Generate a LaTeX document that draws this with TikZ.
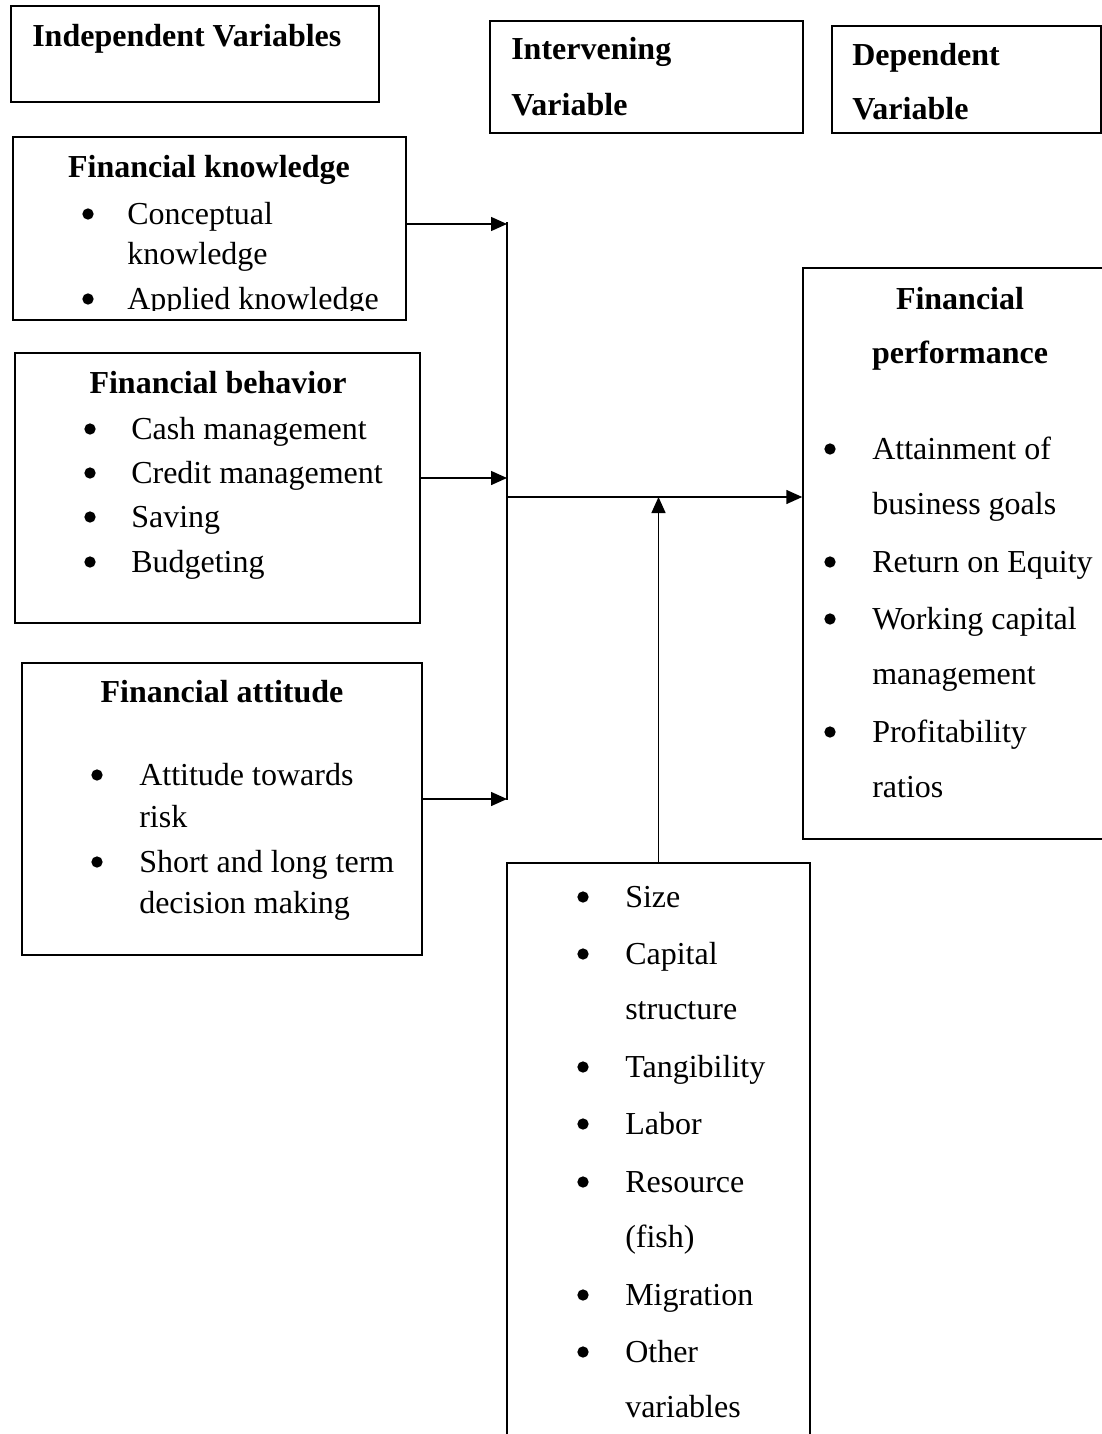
\documentclass[tikz,border=0pt]{standalone}
\usepackage{fontspec}
\setmainfont{Liberation Serif}
\usetikzlibrary{arrows.meta,fit}

\begin{document}
\begin{tikzpicture}[x=0.75pt,y=-0.75pt,
  box/.style={draw=black,line width=1.1pt,inner sep=0pt},
  ttl/.style={anchor=base,inner sep=0pt,font=\fontsize{24}{29}\selectfont\bfseries},
  hdr/.style={anchor=base west,inner sep=0pt,font=\fontsize{24}{29}\selectfont\bfseries},
  itm/.style={anchor=base west,inner sep=0pt,font=\fontsize{24}{29}\selectfont},
  bul/.style={circle,fill=black,inner sep=0pt,minimum size=8.5pt,yshift=7.5pt},
  arr/.style={draw=black,line width=1.1pt,-{Triangle[length=12pt,width=10.5pt]}}]

\useasboundingbox (0,0) rectangle (1102,1434);
\clip (0,0) rectangle (1102,1434);

%headers
\node[box,fit={(11,6) (379,102)}] (indep) {};
\node[hdr] (indeplbl) at (32,47) {Independent Variables};
\node[box,fit={(490,21) (803,133)}] (interv) {};
\node[hdr] (intervlbl) at (511,60) {Intervening};
\node[hdr] (intervlbl2) at (511,116) {Variable};
\node[box,fit={(832,26) (1101,133)}] (dep) {};
\node[hdr] (deplbl) at (852,66) {Dependent};
\node[hdr] (deplbl2) at (852,120) {Variable};

%knowledge
\node[box,fit={(13,137) (406,320)}] (know) {};
\node[ttl] (knowt) at (209,177) {Financial knowledge};
\node[bul] (kb1) at (88,224) {};
\node[itm] (k1) at (127,224) {Conceptual};
\node[itm] (k1b) at (127,264) {knowledge};
\begin{scope}
\clip (13,137) rectangle (406,310);
\node[bul] (kb2) at (88,309) {};
\node[itm] (k2) at (127,309) {Applied knowledge};
\end{scope}

%behavior
\node[box,fit={(15,353) (420,623)}] (behav) {};
\node[ttl] (behavt) at (218,393) {Financial behavior};
\node[bul] (bb1) at (90,439) {};
\node[itm] (b1) at (131,439) {Cash management};
\node[bul] (bb2) at (90,483) {};
\node[itm] (b2) at (131,483) {Credit management};
\node[bul] (bb3) at (90,527) {};
\node[itm] (b3) at (131,527) {Saving};
\node[bul] (bb4) at (90,572) {};
\node[itm] (b4) at (131,572) {Budgeting};

%attitude
\node[box,fit={(22,663) (422,955)}] (attit) {};
\node[ttl] (attitt) at (222,702) {Financial attitude};
\node[bul] (ab1) at (97,785) {};
\node[itm] (a1) at (139,785) {Attitude towards};
\node[itm] (a1b) at (139,827) {risk};
\node[bul] (ab2) at (97,872) {};
\node[itm] (a2) at (139,872) {Short and long term};
\node[itm] (a2b) at (139,913) {decision making};

%performance
\node[box,fit={(803,268) (1115,839)}] (perf) {};
\node[ttl] (perft) at (960,309) {Financial};
\node[ttl] (perft2) at (960,363) {performance};
\node[bul] (pb1) at (830,459) {};
\node[itm] (p1) at (872,459) {Attainment of};
\node[itm] (p1b) at (872,514) {business goals};
\node[bul] (pb2) at (830,572) {};
\node[itm] (p2) at (872,572) {Return on Equity};
\node[bul] (pb3) at (830,629) {};
\node[itm] (p3) at (872,629) {Working capital};
\node[itm] (p3b) at (872,684) {management};
\node[bul] (pb4) at (830,742) {};
\node[itm] (p4) at (872,742) {Profitability};
\node[itm] (p4b) at (872,797) {ratios};

%moderators
\node[box,fit={(507,863) (810,1460)}] (mod) {};
\node[bul] (mb1) at (583,907) {};
\node[itm] (m1) at (625,907) {Size};
\node[bul] (mb2) at (583,964) {};
\node[itm] (m2) at (625,964) {Capital};
\node[itm] (m2b) at (625,1019) {structure};
\node[bul] (mb3) at (583,1077) {};
\node[itm] (m3) at (625,1077) {Tangibility};
\node[bul] (mb4) at (583,1134) {};
\node[itm] (m4) at (625,1134) {Labor};
\node[bul] (mb5) at (583,1192) {};
\node[itm] (m5) at (625,1192) {Resource};
\node[itm] (m5b) at (625,1247) {(fish)};
\node[bul] (mb6) at (583,1305) {};
\node[itm] (m6) at (625,1305) {Migration};
\node[bul] (mb7) at (583,1362) {};
\node[itm] (m7) at (625,1362) {Other};
\node[itm] (m7b) at (625,1417) {variables};

%connectors
\coordinate (bustop) at (507,222);
\coordinate (busbot) at (507,800);
\coordinate (hk) at (0,224);
\coordinate (hb) at (0,478);
\coordinate (ha) at (0,799);
\coordinate (hp) at (0,497);
\draw[line width=1.1pt] (bustop) -- (busbot);
\draw[arr] (know.east |- hk) -- (bustop |- hk);
\draw[arr] (behav.east |- hb) -- (bustop |- hb);
\draw[arr] (attit.east |- ha) -- (bustop |- ha);
\draw[arr] (bustop |- hp) -- (perf.west |- hp);
\draw[arr] (mod.north) -- (mod.north |- hp);

\end{tikzpicture}
\end{document}
